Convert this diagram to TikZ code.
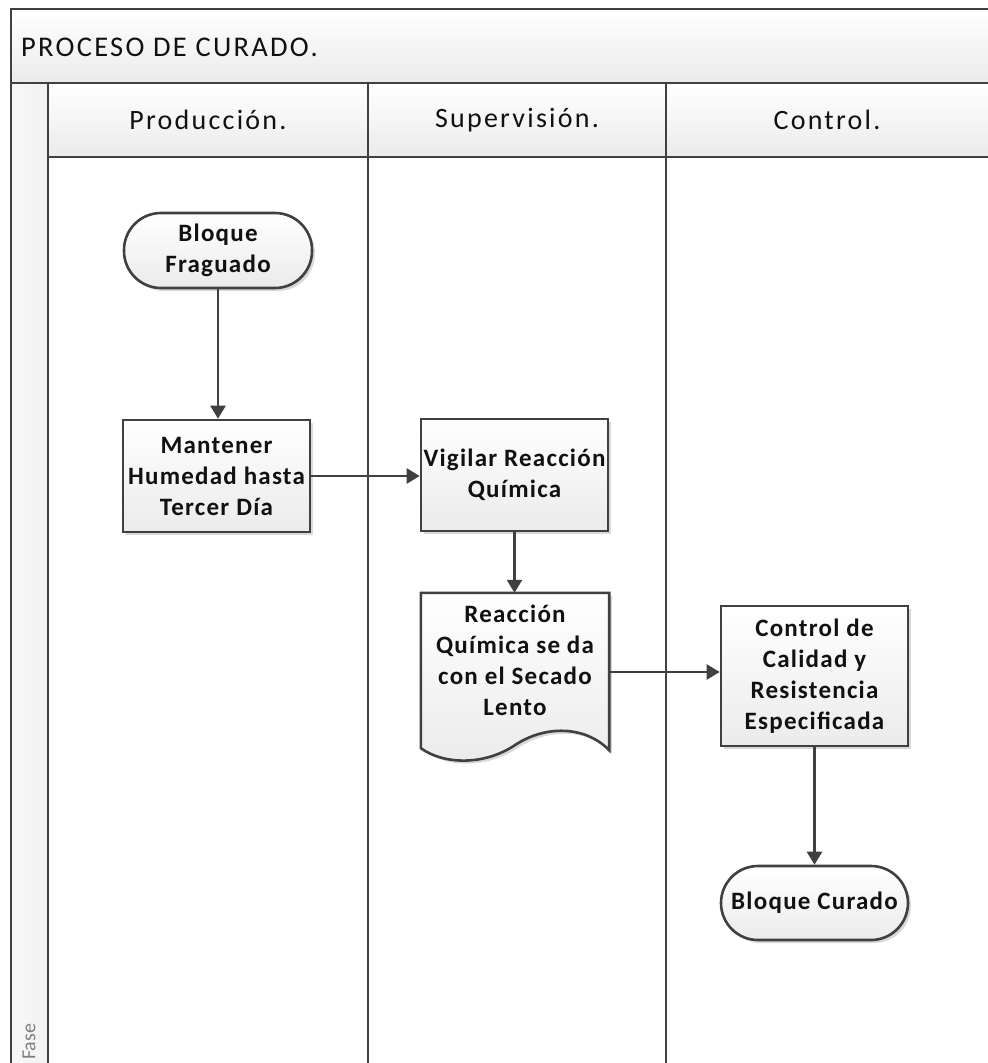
\documentclass[tikz,border=0pt]{standalone}
\usepackage{fontspec}
\setmainfont{Carlito}
\newfontfamily\spacedfont[LetterSpace=8]{Carlito}
\newfontfamily\nodefont[LetterSpace=5]{Carlito}
\usetikzlibrary{arrows.meta,shadows,calc}
\definecolor{linegray}{HTML}{404040}
\definecolor{shadegray}{HTML}{EBEBEB}
\definecolor{stripgray}{HTML}{F2F2F2}
\definecolor{txt}{HTML}{111111}
\begin{document}
\begin{tikzpicture}[x=1pt,y=-1pt,
  frameline/.style={draw=linegray,line width=2.6pt},
  bar/.style={frameline,top color=white,bottom color=shadegray},
  headtext/.style={text=txt,font=\spacedfont\fontsize{28}{32}\selectfont},
  softshadow/.style={drop shadow={shadow xshift=3pt,shadow yshift=-3pt,opacity=0.15,fill=black}},
  nodetext/.style={text=txt,align=center,font=\nodefont\fontsize{25}{31}\selectfont\bfseries},
  flowbox/.style={draw=linegray,line width=2.6pt,top color=white,bottom color=shadegray,
    nodetext,inner sep=1pt,softshadow},
  procbox/.style={flowbox,rectangle,minimum width=187pt},
  termbox/.style={flowbox,rounded corners=37pt,minimum width=188pt,minimum height=75pt},
  flowarrow/.style={draw=linegray,line width=2.6pt,-{Triangle[width=15pt,length=13pt]}}
]
\useasboundingbox (0,0) rectangle (988,1063);
\clip (0,0) rectangle (988,1063);
\fill[white] (0,0) rectangle (988,1063);

% swimlane frame
\path[bar] (11,9) rectangle (1000,83);
\path[frameline,left color=stripgray!60,right color=stripgray] (11,83) rectangle (48,1080);
\path[bar] (48,83) rectangle (368,157);
\path[bar] (368,83) rectangle (666,157);
\path[bar] (666,83) rectangle (1000,157);
\draw[frameline] (368,157) -- (368,1080);
\draw[frameline] (666,157) -- (666,1080);

% titles
\node[headtext,font=\spacedfont\fontsize{28.5}{33}\selectfont,anchor=west,inner sep=0pt] (title) at (21,47) {PROCESO DE CURADO.};
\node[headtext] (hprod) at (208,120) {Producción.};
\node[headtext] (hsup) at (517,120) {Supervisión.};
\node[headtext] (hctl) at (827,120) {Control.};
\node[text=gray,font=\fontsize{20}{22}\selectfont,rotate=90,anchor=west,inner sep=0pt] (fase) at (29,1060) {Fase};

% flow nodes
\node[termbox] (bf) at (218,250.5) {Bloque\\Fraguado};
\node[procbox,minimum height=112pt] (man) at (216.5,476) {Mantener\\Humedad hasta\\Tercer Día};
\node[procbox,minimum height=112pt] (vig) at (514.5,475) {Vigilar Reacción\\Química};
\node[minimum width=188pt,minimum height=155pt,inner sep=0pt] (reac) at (515,670.5) {};
\path[draw=linegray,line width=2.6pt,top color=white,bottom color=shadegray,softshadow]
  (reac.north west) -- (reac.north east) -- ($(reac.south east)+(0,2)$)
  .. controls ($(reac.south west)+(164,-23)$) and ($(reac.south west)+(124,-23)$) .. ($(reac.south west)+(94,-3)$)
  .. controls ($(reac.south west)+(64,17)$) and ($(reac.south west)+(24,17)$) .. (reac.south west) -- cycle;
\node[nodetext] (reactext) at (515,660)
  {Reacción\\Química se da\\con el Secado\\Lento};
\node[procbox,minimum height=140pt] (cal) at (814.5,676) {Control de\\Calidad y\\Resistencia\\Especificada};
\node[termbox,minimum width=187pt,minimum height=74pt] (bc) at (814.5,903) {Bloque Curado};

% connectors
\draw[flowarrow] (bf.south) -- (bf.south |- man.north);
\draw[flowarrow] (man.east) -- (man.east -| vig.west);
\draw[flowarrow] (vig.south) -- (vig.south |- reac.north);
\draw[flowarrow] ([yshift=4pt]reac.east |- cal.west) -- ([yshift=4pt]cal.west);
\draw[flowarrow] (cal.south) -- (bc.north);
\end{tikzpicture}
\end{document}
